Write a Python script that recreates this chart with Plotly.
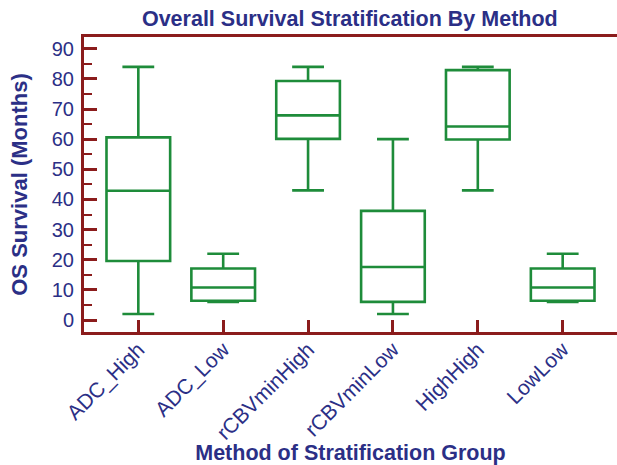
import plotly.graph_objects as go

# group labels and box statistics (OS survival, months)
groups = ["ADC_High", "ADC_Low", "rCBVminHigh", "rCBVminLow", "HighHigh", "LowLow"]
lower_whisker = [2, 6, 43, 2, 43, 6]
q1_vals = [19.6, 6.4, 60.1, 6.0, 59.9, 6.4]
medians = [42.9, 10.8, 67.9, 17.6, 64.2, 10.8]
q3_vals = [60.6, 17.1, 79.3, 36.2, 82.9, 17.1]
upper_whisker = [84, 22, 84, 60, 84, 22]

NAVY = "#2b2f86"
DARKRED = "#8b1c1c"
GREEN = "#1e8c3a"

fig = go.Figure()
fig.add_trace(go.Box(
    x=groups,
    q1=q1_vals,
    median=medians,
    q3=q3_vals,
    lowerfence=lower_whisker,
    upperfence=upper_whisker,
    fillcolor="rgba(255,255,255,0)",
    line=dict(color=GREEN, width=2.6),
    width=0.75,
    whiskerwidth=0.5,
    boxpoints=False,
    hoverinfo="skip",
    showlegend=False,
))

fig.update_layout(
    width=617,
    height=465,
    margin=dict(l=84, r=0, t=37, b=133),
    paper_bgcolor="white",
    plot_bgcolor="white",
    font=dict(family="Liberation Sans, Arial, sans-serif", color=NAVY),
    title=dict(
        text="<b>Overall Survival Stratification By Method</b>",
        x=0.567, xanchor="center",
        y=0.961, yanchor="middle",
        font=dict(size=21.5, color=NAVY),
    ),
)

fig.update_xaxes(
    type="category",
    categoryorder="array",
    categoryarray=groups,
    range=[-0.64, 5.64],
    automargin=False,
    showgrid=False,
    showline=True,
    linecolor=DARKRED,
    linewidth=3,
    mirror=True,
    ticks="inside",
    ticklen=12,
    tickwidth=2.5,
    tickcolor=DARKRED,
    tickangle=-45,
    tickfont=dict(size=21, color=NAVY),
    ticklabelstandoff=-6,
    title=dict(text="<b>Method of Stratification Group</b>",
               font=dict(size=21.5, color=NAVY), standoff=2),
)

fig.update_yaxes(
    range=[-3.98, 93.9],
    tickmode="linear",
    tick0=0,
    dtick=10,
    automargin=False,
    showgrid=False,
    zeroline=False,
    showline=True,
    linecolor=DARKRED,
    linewidth=3,
    ticks="inside",
    ticklen=13,
    tickwidth=2.5,
    tickcolor=DARKRED,
    tickfont=dict(size=20, color=NAVY),
    ticklabelstandoff=3,
    minor=dict(ticks="inside", dtick=5, tick0=0, ticklen=8,
               tickwidth=2, tickcolor=DARKRED, showgrid=False),
    title=dict(text="<b>OS Survival (Months)</b>",
               font=dict(size=22, color=NAVY), standoff=19),
)

# drop the default body margin so the 617x465 figure fills the window exactly
fig.write_html("out.html",
               config={"displayModeBar": False},
               post_script="document.body.style.margin='0';document.body.style.overflow='hidden';")
